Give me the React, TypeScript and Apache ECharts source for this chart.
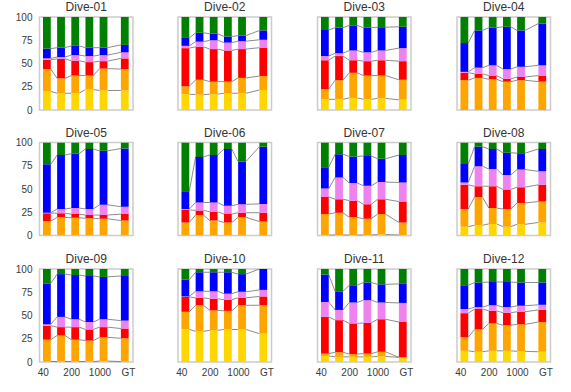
import React, { useEffect, useRef } from 'react';
import * as echarts from 'echarts';

// Layer order (bottom -> top): gold, orange, red, violet, blue, green
const layerColors = ['#FFD700', '#FFA500', '#FF0000', '#EE82EE', '#0000FF', '#008000'];
const barPositions = [0, 1, 2, 3, 4, 5.5];
const tickPositions = [-0.25, 1.75, 3.75, 5.75];
const tickLabels = ['40', '200', '1000', 'GT'];
const diveTitles = ['Dive-01', 'Dive-02', 'Dive-03', 'Dive-04', 'Dive-05', 'Dive-06', 'Dive-07', 'Dive-08', 'Dive-09', 'Dive-10', 'Dive-11', 'Dive-12'];

// each dive: one row per layer (gold, orange, red, violet, blue, green), six bars per row
const dive01 = [
  [20, 18, 18, 22, 21, 21],
  [24, 16, 19, 15, 23.5, 23],
  [10, 21, 16, 14.5, 8, 11.5],
  [1.5, 2, 6, 6.5, 6.5, 6.5],
  [10.5, 10, 10, 9, 8, 8],
  [34, 33, 31, 33, 33, 30],
];
const dive02 = [
  [17, 16.5, 17, 18, 18, 21.5],
  [8.5, 16, 13.5, 12.5, 16.5, 15],
  [41, 35.5, 35, 33.5, 31, 30.5],
  [2.5, 5.5, 9.5, 8.5, 8.5, 8.5],
  [8.5, 9.5, 7, 6.5, 6, 10],
  [22.5, 17, 18, 21, 20, 14.5],
];
const dive03 = [
  [11.5, 11.5, 13, 11.5, 12.5, 11],
  [11, 20.5, 27, 25.5, 24.5, 21.5],
  [31, 26, 13.5, 15.5, 16.5, 20],
  [4.5, 3, 10.5, 9.5, 10.5, 14],
  [28, 27.5, 27, 26.5, 25, 23],
  [14, 11.5, 9, 11.5, 11, 10.5],
];
const dive04 = [
  [0, 0, 0, 0, 0, 0],
  [32, 34.5, 33, 30.5, 32, 30.5],
  [8, 4.5, 4, 3, 3.5, 6.5],
  [1, 6.5, 11, 10.5, 11, 11],
  [31, 40, 40.5, 45.5, 39, 45],
  [28, 14.5, 11.5, 10.5, 14.5, 7],
];
const dive05 = [
  [0, 0, 0, 0, 0, 0],
  [15.5, 19.5, 19, 18.5, 18, 16],
  [8.5, 4.5, 4, 3.5, 4, 7],
  [0.5, 4.5, 6.5, 6.5, 11, 8],
  [52, 58, 58.5, 64.5, 58, 62.5],
  [23.5, 13.5, 12, 7, 9, 6.5],
];
const dive06 = [
  [0, 0, 0, 0, 0, 0],
  [14, 22, 16, 14, 19.5, 15],
  [13.5, 5, 9.5, 9, 5, 9.5],
  [1, 8.5, 10, 9, 9, 9.5],
  [19, 49, 51, 61, 46, 61.5],
  [52.5, 15.5, 13.5, 7, 20.5, 4.5],
];
const dive07 = [
  [0.5, 0.5, 0.5, 0.5, 1, 0.5],
  [22.5, 24, 19, 17.5, 22, 13.5],
  [18.5, 14.5, 18, 15.5, 16, 22.5],
  [9, 23.5, 19, 20, 18.5, 20.5],
  [23, 25, 28.5, 32, 25, 29.5],
  [26.5, 12.5, 15, 14.5, 17.5, 13.5],
];
const dive08 = [
  [9.5, 11, 12.5, 9.5, 12, 14],
  [19, 30.5, 17, 19, 23, 22.5],
  [26, 11.5, 23.5, 21, 17, 18],
  [2.5, 21.5, 18.5, 15.5, 19, 14.5],
  [20, 21, 21.5, 24, 17.5, 24],
  [23, 4.5, 7, 11, 11.5, 7],
];
const dive09 = [
  [0.5, 0.5, 0.5, 0.5, 1, 0.5],
  [23.5, 28, 23.5, 22.5, 25.5, 25],
  [15, 9, 13.5, 12, 11, 10.5],
  [1.5, 11, 8.5, 8, 8.5, 8.5],
  [44, 46, 47.5, 49.5, 45.5, 48],
  [15.5, 5.5, 6.5, 7.5, 8.5, 7.5],
];
const dive10 = [
  [35, 33, 34, 35, 35, 30.5],
  [19, 28, 21.5, 20, 26, 30.5],
  [16, 8, 12.5, 12, 8, 9.5],
  [0.5, 7, 8, 6.5, 6.5, 7],
  [18, 20.5, 20.5, 23, 19, 22.5],
  [11.5, 3.5, 3.5, 3.5, 5.5, 0],
];
const dive11 = [
  [6.5, 5.5, 5.5, 5.5, 6, 5],
  [2.5, 5, 3, 3.5, 5, 0],
  [39.5, 34.5, 33, 33, 35, 38],
  [16, 11, 22.5, 24.5, 18, 20.5],
  [29.5, 20, 18.5, 19, 19.5, 20.5],
  [6, 24, 17.5, 14.5, 16.5, 16],
];
const dive12 = [
  [12, 11, 12, 12, 11.5, 11],
  [14.5, 24, 29.5, 27.5, 29, 32],
  [26, 22, 13.5, 13.5, 13.5, 13],
  [4.5, 2, 6, 6, 6.5, 5.5],
  [25.5, 26.5, 25, 27, 25, 24],
  [17.5, 14.5, 14, 14, 14.5, 14.5],
];
const dives = [dive01, dive02, dive03, dive04, dive05, dive06, dive07, dive08, dive09, dive10, dive11, dive12];

const GRID_LEFTS = [39.5, 178, 317.5, 457];
const GRID_TOPS = [17, 142.5, 269];
const GRID_W = 93.5;
const GRID_H = 93;
const X_MIN = -0.52;
const X_MAX = 6.08;
const HALF = 0.275;
const FONT = '"Liberation Sans", Arial, sans-serif';

function buildOption() {
  const grids: any[] = [];
  const xAxes: any[] = [];
  const yAxes: any[] = [];
  const titles: any[] = [];
  const series: any[] = [];

  dives.forEach((layers, d) => {
    const r = Math.floor(d / 4);
    const c = d % 4;
    const left = GRID_LEFTS[c];
    const top = GRID_TOPS[r];
    grids.push({
      left, top, width: GRID_W, height: GRID_H,
      show: true, borderColor: '#cccccc', borderWidth: 1.5, backgroundColor: '#ffffff',
    });
    titles.push({
      text: diveTitles[d], left: left + GRID_W / 2, top: top - 16, textAlign: 'center', padding: 0,
      textStyle: { fontFamily: FONT, fontSize: 12, fontWeight: 'normal', color: '#333333' },
    });
    xAxes.push({
      type: 'value', gridIndex: d, min: X_MIN, max: X_MAX,
      axisLine: { show: false }, axisTick: { show: false }, splitLine: { show: false },
      axisLabel: {
        show: r === 2, customValues: tickPositions, fontFamily: FONT, fontSize: 10, color: '#3a3a3a', margin: 5,
        formatter: (v: number) => {
          const idx = tickPositions.findIndex((t) => Math.abs(t - v) < 1e-6);
          return idx >= 0 ? tickLabels[idx] : '';
        },
      },
    });
    yAxes.push({
      type: 'value', gridIndex: d, min: 0, max: 100, interval: 25,
      axisLine: { show: false }, axisTick: { show: false }, splitLine: { show: false },
      axisLabel: { show: c === 0, fontFamily: FONT, fontSize: 10, color: '#3a3a3a', margin: 7 },
    });

    let running = barPositions.map(() => 0);
    const barData: number[][] = [];
    const tops: number[][] = [];
    layers.forEach((vals, k) => {
      const bottoms = running.slice();
      running = running.map((v, i) => v + vals[i]);
      tops.push(running.slice());
      vals.forEach((v, i) => {
        if (v > 0) barData.push([barPositions[i], bottoms[i], running[i], k]);
      });
    });
    const linkData: number[][] = [];
    for (let k = 0; k < layers.length - 1; k++) {
      for (let i = 0; i < barPositions.length - 1; i++) {
        const ya = tops[k][i];
        const yb = tops[k][i + 1];
        if (ya < 0.3 && yb < 0.3) continue;
        linkData.push([barPositions[i] + HALF, ya, barPositions[i + 1] - HALF, yb]);
      }
    }
    series.push({
      type: 'custom', xAxisIndex: d, yAxisIndex: d, z: 2, clip: true,
      encode: { x: [0, 2], y: [1, 3] },
      data: linkData,
      renderItem: (_p: any, api: any) => {
        const a = api.coord([api.value(0), api.value(1)]);
        const b = api.coord([api.value(2), api.value(3)]);
        return {
          type: 'line',
          shape: { x1: a[0], y1: a[1], x2: b[0], y2: b[1] },
          style: { stroke: '#6e6e6e', lineWidth: 0.8 },
        };
      },
    });
    series.push({
      type: 'custom', xAxisIndex: d, yAxisIndex: d, z: 3, clip: true,
      encode: { x: 0, y: [1, 2] },
      data: barData,
      renderItem: (_p: any, api: any) => {
        const x = api.value(0);
        const y0 = api.value(1);
        const y1 = api.value(2);
        const k = api.value(3);
        const tl = api.coord([x - HALF, y1]);
        const br = api.coord([x + HALF, y0]);
        return {
          type: 'rect',
          shape: { x: tl[0], y: tl[1], width: br[0] - tl[0], height: br[1] - tl[1] },
          style: { fill: layerColors[k] },
        };
      },
    });
  });

  return {
    animation: false,
    backgroundColor: '#ffffff',
    title: titles,
    grid: grids,
    xAxis: xAxes,
    yAxis: yAxes,
    series,
  };
}

export default function App() {
  const ref = useRef<HTMLDivElement>(null);
  useEffect(() => {
    if (!ref.current) return;
    const chart = echarts.init(ref.current, undefined, { renderer: 'svg' });
    chart.setOption(buildOption() as any);
    return () => chart.dispose();
  }, []);
  return (
    <div
      ref={ref}
      style={{ position: 'fixed', left: 0, top: 0, width: 571, height: 392, background: '#fff' }}
    />
  );
}
